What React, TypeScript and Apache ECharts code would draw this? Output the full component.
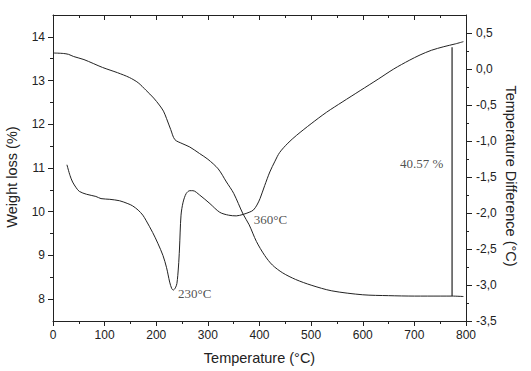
import React, { useEffect, useRef } from "react";
import * as echarts from "echarts";

// Thermogravimetric (TG) curve – weight loss (%) on the left axis
const tgTemperature = [2, 20, 30, 40, 60, 96, 125, 148, 165, 180, 195, 206, 214, 220, 228, 236, 250, 265, 284, 300, 320, 336, 350, 368, 380, 394, 410, 425, 445, 470, 500, 540, 600, 650, 700, 750, 773, 795];
const tgWeight = [13.63, 13.62, 13.6, 13.55, 13.48, 13.3, 13.18, 13.07, 12.95, 12.78, 12.6, 12.44, 12.3, 12.13, 11.88, 11.65, 11.56, 11.48, 11.33, 11.2, 10.98, 10.68, 10.42, 9.95, 9.7, 9.32, 9.0, 8.78, 8.6, 8.45, 8.32, 8.19, 8.1, 8.08, 8.07, 8.07, 8.07, 8.06];

// Differential thermal analysis (DTA) curve – temperature difference (°C) on the right axis
const dtaTemperature = [27, 33, 38, 45, 51, 65, 83, 93, 110, 129, 145, 154, 165, 174, 180, 193, 203, 213, 220, 226, 230, 233, 237, 240, 243, 245, 248, 252, 258, 265, 271, 284, 304, 323, 340, 355, 368, 380, 388, 395, 401, 410, 420, 430, 439, 455, 472, 500, 530, 560, 595, 630, 660, 690, 711, 733, 757, 780, 795];
const dtaDifference = [-1.33, -1.48, -1.57, -1.65, -1.7, -1.74, -1.77, -1.8, -1.81, -1.83, -1.87, -1.9, -1.96, -2.03, -2.1, -2.27, -2.42, -2.59, -2.76, -2.96, -3.05, -3.07, -3.04, -2.98, -2.75, -2.5, -2.03, -1.85, -1.73, -1.69, -1.69, -1.75, -1.87, -1.99, -2.03, -2.04, -2.02, -1.99, -1.96, -1.89, -1.8, -1.62, -1.43, -1.28, -1.16, -1.03, -0.92, -0.76, -0.6, -0.46, -0.3, -0.14, 0.0, 0.12, 0.195, 0.26, 0.31, 0.35, 0.38];

// Total weight-loss marker (vertical line)
const lossMarkerTemperature = 773;
const lossMarkerWeights = [8.07, 13.76];

// Annotations (anchored in temperature / weight coordinates)
const annotationLabels = ["230°C", "360°C", "40.57 %"];
const annotationTemperature = [242, 389, 672];
const annotationWeight = [8.14, 9.82, 11.11];

// Tick values
const xMin = 0;
const xMax = 800;
const xInterval = 100;
const leftMin = 7.5;
const leftMax = 14.5;
const leftMajorTicks = [8, 9, 10, 11, 12, 13, 14];
const leftMinorTicks = [8.5, 9.5, 10.5, 11.5, 12.5, 13.5];
const rightMin = -3.5;
const rightMax = 0.75;
const rightMajorTicks = [-3.5, -3.0, -2.5, -2.0, -1.5, -1.0, -0.5, 0.0, 0.5];
const rightMinorTicks = [-3.25, -2.75, -2.25, -1.75, -1.25, -0.75, -0.25, 0.25];

const INK = "#222";
const SANS = "'Liberation Sans', Arial, sans-serif";
const SERIF = "'Liberation Serif', 'Times New Roman', serif";

export default function App() {
  const ref = useRef<HTMLDivElement>(null);

  useEffect(() => {
    if (!ref.current) return;
    const chart = echarts.init(ref.current, undefined, { renderer: "svg" });

    const tgData = tgTemperature.map((t, i) => [t, tgWeight[i]]);
    const dtaData = dtaTemperature.map((t, i) => [t, dtaDifference[i]]);
    const markerData = lossMarkerWeights.map((w) => [lossMarkerTemperature, w]);
    const annData = annotationLabels.map((name, i) => ({
      name,
      value: [annotationTemperature[i], annotationWeight[i]],
    }));

    const axisLine = { show: true, onZero: false, lineStyle: { color: INK, width: 1 } };
    const noLine = { show: false, onZero: false };
    const labelStyle = { color: INK, fontSize: 12, fontFamily: SANS };

    chart.setOption({
      animation: false,
      backgroundColor: "#fff",
      grid: { left: 53, right: 65, top: 15, bottom: 50, containLabel: false },
      xAxis: [
        {
          type: "value",
          position: "bottom",
          min: xMin,
          max: xMax,
          interval: xInterval,
          name: "Temperature (°C)",
          nameLocation: "middle",
          nameGap: 29,
          nameTextStyle: { color: INK, fontSize: 14.5, fontFamily: SANS },
          axisLine,
          axisTick: { show: true, length: 5, lineStyle: { color: INK } },
          minorTick: { show: true, splitNumber: 2, length: 3, lineStyle: { color: INK } },
          axisLabel: { ...labelStyle, margin: 8 },
          splitLine: { show: false },
        },
        {
          type: "value",
          position: "top",
          min: xMin,
          max: xMax,
          interval: xInterval,
          axisLine,
          axisTick: { show: true, inside: true, length: 5, lineStyle: { color: INK } },
          minorTick: { show: true, splitNumber: 2, length: 3, lineStyle: { color: INK } },
          axisLabel: { show: false },
          splitLine: { show: false },
        },
      ],
      yAxis: [
        {
          type: "value",
          position: "left",
          min: leftMin,
          max: leftMax,
          axisLine,
          axisTick: { show: true, length: 5, customValues: leftMajorTicks, lineStyle: { color: INK } },
          axisLabel: { ...labelStyle, margin: 8, customValues: leftMajorTicks },
          splitLine: { show: false },
        },
        {
          type: "value",
          position: "right",
          min: rightMin,
          max: rightMax,
          axisLine,
          axisTick: { show: true, length: 6, customValues: rightMajorTicks, lineStyle: { color: INK } },
          axisLabel: {
            ...labelStyle,
            margin: 10,
            customValues: rightMajorTicks,
            formatter: (v: number) => v.toFixed(1).replace(".", ","),
          },
          splitLine: { show: false },
        },
        {
          type: "value",
          position: "left",
          min: leftMin,
          max: leftMax,
          axisLine: noLine,
          axisTick: { show: true, length: 3, customValues: leftMinorTicks, lineStyle: { color: INK } },
          axisLabel: { show: false },
          splitLine: { show: false },
        },
        {
          type: "value",
          position: "right",
          min: rightMin,
          max: rightMax,
          axisLine: noLine,
          axisTick: { show: true, length: 3, customValues: rightMinorTicks, lineStyle: { color: INK } },
          axisLabel: { show: false },
          splitLine: { show: false },
        },
      ],
      graphic: [
        {
          type: "text",
          x: 12,
          y: 177,
          rotation: Math.PI / 2,
          style: {
            text: "Weight loss (%)",
            fill: INK,
            font: `14.5px ${SANS}`,
            textAlign: "center",
            textVerticalAlign: "middle",
          },
        },
        {
          type: "text",
          x: 511,
          y: 176,
          rotation: -Math.PI / 2,
          style: {
            text: "Temperature Difference (°C)",
            fill: INK,
            font: `14.5px ${SANS}`,
            textAlign: "center",
            textVerticalAlign: "middle",
          },
        },
      ],
      series: [
        {
          name: "TG",
          type: "line",
          xAxisIndex: 0,
          yAxisIndex: 0,
          data: tgData,
          showSymbol: false,
          smooth: 0.3,
          lineStyle: { color: INK, width: 1 },
          silent: true,
        },
        {
          name: "DTA",
          type: "line",
          xAxisIndex: 0,
          yAxisIndex: 1,
          data: dtaData,
          showSymbol: false,
          smooth: 0.3,
          lineStyle: { color: INK, width: 1 },
          silent: true,
        },
        {
          name: "Weight loss marker",
          type: "line",
          xAxisIndex: 0,
          yAxisIndex: 0,
          data: markerData,
          showSymbol: false,
          lineStyle: { color: INK, width: 1.2 },
          silent: true,
        },
        {
          name: "Annotations",
          type: "scatter",
          xAxisIndex: 0,
          yAxisIndex: 0,
          data: annData,
          symbolSize: 0,
          silent: true,
          label: {
            show: true,
            position: "inside",
            align: "left",
            verticalAlign: "middle",
            formatter: (p: any) => p.name,
            color: INK,
            fontSize: 13,
            fontFamily: SERIF,
          },
        },
      ],
    });

    return () => chart.dispose();
  }, []);

  return (
    <div
      ref={ref}
      style={{ position: "absolute", left: 0, top: 0, width: 531, height: 371, background: "#fff" }}
    />
  );
}
